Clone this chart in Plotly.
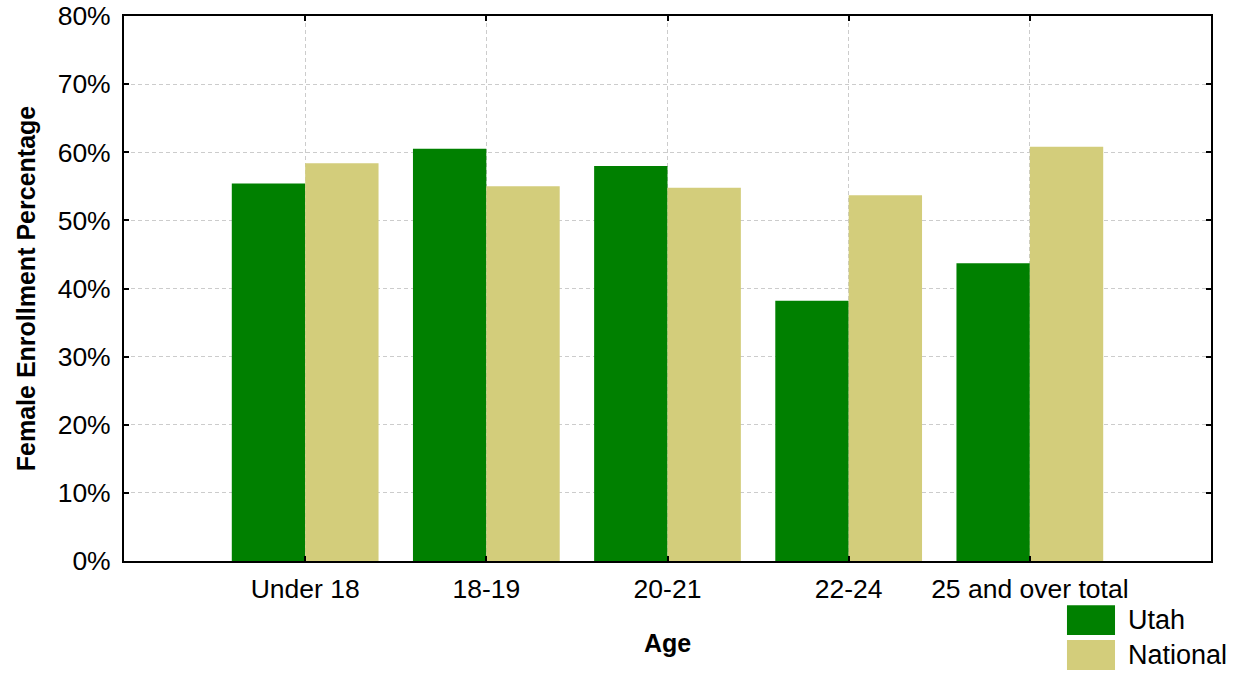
import plotly.graph_objects as go

categories = ["Under 18", "18-19", "20-21", "22-24", "25 and over total"]
utah = [0.554, 0.605, 0.580, 0.382, 0.437]
national = [0.584, 0.550, 0.548, 0.537, 0.608]
series_names = ["Utah", "National"]
colors = ["#008000", "#D3CD7B"]
y_ticks = [0, 0.1, 0.2, 0.3, 0.4, 0.5, 0.6, 0.7, 0.8]

FONT = "Liberation Sans, Arial, sans-serif"

fig = go.Figure()
for name, vals, col in zip(series_names, [utah, national], colors):
    fig.add_trace(go.Bar(x=categories, y=vals, name=name, marker=dict(color=col, line=dict(width=0)),
                         showlegend=False))

axis_common = dict(
    showline=True, linecolor="black", linewidth=2, mirror="ticks",
    ticks="inside", ticklen=5, tickwidth=2, tickcolor="black",
    showgrid=True, gridcolor="#cccccc", griddash="4px,3px", gridwidth=1,
    zeroline=False, automargin=False,
    tickfont=dict(family=FONT, size=26.5, color="black"),
)

fig.update_layout(
    width=1245, height=677,
    margin=dict(l=124, r=34, t=16, b=116),
    paper_bgcolor="white", plot_bgcolor="white",
    barmode="group", bargap=0.19, bargroupgap=0,
    xaxis=dict(**axis_common, range=[-1, 5], type="category", ticklabelstandoff=3,
               title=dict(text="<b>Age</b>", font=dict(family=FONT, size=25, color="black"), standoff=32)),
    yaxis=dict(**axis_common, range=[0, 0.8], tickvals=y_ticks, tickformat=".0%",
               ticklabelstandoff=6,
               title=dict(text="<b>Female Enrollment Percentage</b>", font=dict(family=FONT, size=25, color="black"),
                          standoff=15)),
)

# custom legend
legend_rows = [(-0.081, -0.136), (-0.145, -0.200)]
for (y0, y1), name, col in zip(legend_rows, series_names, colors):
    fig.add_shape(type="rect", xref="paper", yref="paper", x0=0.8675, x1=0.9117, y0=y1, y1=y0,
                  fillcolor=col, line=dict(width=0))
    fig.add_annotation(xref="paper", yref="paper", x=0.9215, y=(y0 + y1) / 2, text=name,
                       showarrow=False, xanchor="left", yanchor="middle",
                       font=dict(family=FONT, size=27, color="black"))

fig.write_html("out.html", config={"displayModeBar": False},
               post_script="document.body.style.margin='0';document.body.style.overflow='hidden';")
